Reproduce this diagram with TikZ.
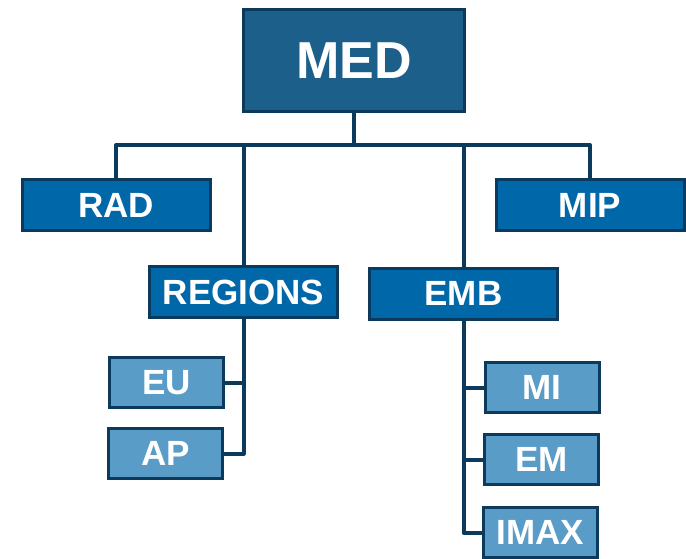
\documentclass[tikz,border=0pt]{standalone}
\usepackage{fontspec}
\setmainfont{Liberation Sans}
\definecolor{medtop}{RGB}{28,95,139}
\definecolor{medmid}{RGB}{0,104,169}
\definecolor{medleaf}{RGB}{90,156,200}
\definecolor{medline}{RGB}{12,58,92}

\begin{document}
\begin{tikzpicture}[x=1pt, y=-1pt,
    box/.style={draw=medline, line width=3pt, text=white, inner sep=0pt,
      font=\bfseries\fontsize{35}{35}\selectfont},
    topbox/.style={box, fill=medtop, minimum width=221pt, minimum height=102pt,
      font=\bfseries\fontsize{52}{52}\selectfont},
    midbox/.style={box, fill=medmid, minimum width=188pt, minimum height=51pt},
    leafbox/.style={box, fill=medleaf, minimum width=114pt, minimum height=50pt},
    link/.style={draw=medline, line width=4pt, line join=round}]
    %med tree
    \useasboundingbox (0,0) rectangle (686,558);
    \node[topbox] at (354, 60.5) (MED){MED};
    \node[midbox] at (116, 205) (RAD){RAD};
    \node[midbox] at (590, 205) (MIP){MIP};
    \node[midbox] at (243.5, 292) (REGIONS){REGIONS};
    \node[midbox] at (463.5, 293.5) (EMB){EMB};
    \node[leafbox] at (166.5, 382.5) (EU){EU};
    \node[leafbox] at (165.5, 453.5) (AP){AP};
    \node[leafbox] at (542, 387.5) (MI){MI};
    \node[leafbox] at (541.5, 459.5) (EM){EM};
    \node[leafbox] at (540.5, 532.5) (IMAX){IMAX};
    \coordinate (hub) at (354, 145);
    \draw[link] (MED.south) -- (hub);
    \draw[link] (RAD.north) |- (hub) -| (MIP.north);
    \draw[link] (REGIONS.north) -- (REGIONS |- hub);
    \draw[link] (EMB.north) -- (EMB |- hub);
    \draw[link] (REGIONS.south) |- (AP.east);
    \draw[link] (EU.east) -- (EU.east -| REGIONS.south);
    \draw[link] (EMB.south) |- ([xshift=-18pt]IMAX.west) -- (IMAX.west);
    \draw[link] (MI.west) -- (MI.west -| EMB.south);
    \draw[link] (EM.west) -- (EM.west -| EMB.south);
  \end{tikzpicture}
\end{document}
